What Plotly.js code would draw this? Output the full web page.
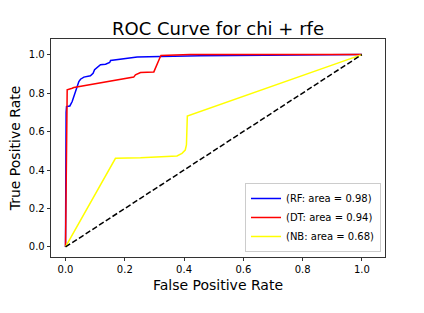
<!DOCTYPE html>
<html>
<head>
<meta charset="utf-8">
<script src="https://cdn.plot.ly/plotly-3.0.1.min.js"></script>
<style>html,body{margin:0;padding:0;background:#fff;}#chart{width:424px;height:313px;}</style>
</head>
<body>
<div id="chart"></div>
<script>
// RF curve
const rfFpr = [0, 0, 0.002, 0.0034, 0.0146, 0.0225, 0.028, 0.039, 0.045, 0.0506, 0.062, 0.084, 0.093, 0.098, 0.104, 0.112, 0.118, 0.135, 0.149, 0.152, 0.174, 0.197, 0.230, 0.242, 0.320, 0.455, 1.0];
const rfTpr = [0, 0.60, 0.70, 0.730, 0.733, 0.756, 0.782, 0.834, 0.860, 0.872, 0.883, 0.890, 0.903, 0.921, 0.930, 0.942, 0.947, 0.950, 0.959, 0.969, 0.973, 0.978, 0.982, 0.987, 0.990, 0.994, 1.0];
// DT curve
const dtFpr = [0, 0.004, 0.0056, 0.0225, 0.028, 0.230, 0.236, 0.253, 0.298, 0.318, 0.322, 0.421, 1.0];
const dtTpr = [0, 0.60, 0.817, 0.825, 0.829, 0.883, 0.895, 0.907, 0.910, 0.982, 0.995, 1.0, 1.0];
// NB curve
const nbFpr = [0, 0.1685, 0.253, 0.343, 0.376, 0.393, 0.404, 0.408, 0.410, 0.411, 1.0];
const nbTpr = [0, 0.461, 0.464, 0.469, 0.473, 0.487, 0.504, 0.530, 0.600, 0.681, 1.0];
// chance line
const diagX = [0, 1];
const diagY = [0, 1];
const seriesNames = ["(RF: area = 0.98)", "(DT: area = 0.94)", "(NB: area = 0.68)"];
const tickVals = [0, 0.2, 0.4, 0.6, 0.8, 1.0];
const tickText = ["0.0", "0.2", "0.4", "0.6", "0.8", "1.0"];

const font = "DejaVu Sans, sans-serif";
const traces = [
  {x: rfFpr, y: rfTpr, mode: "lines", name: seriesNames[0], line: {color: "blue", width: 1.5}},
  {x: dtFpr, y: dtTpr, mode: "lines", name: seriesNames[1], line: {color: "red", width: 1.5}},
  {x: nbFpr, y: nbTpr, mode: "lines", name: seriesNames[2], line: {color: "yellow", width: 1.5}},
  {x: diagX, y: diagY, mode: "lines", showlegend: false, line: {color: "black", width: 1.5, dash: "5.5px,2.5px"}}
];
const axisCommon = {
  showgrid: false, zeroline: false, showline: true, mirror: true,
  linecolor: "#000", linewidth: 0.8,
  ticks: "outside", ticklen: 3.5, tickwidth: 0.8, tickcolor: "#000",
  tickvals: tickVals, ticktext: tickText,
  tickfont: {family: font, size: 10, color: "#000"}
};
const layout = {
  width: 424, height: 313,
  margin: {l: 50.7, r: 39, t: 39.3, b: 56.3, pad: 0},
  paper_bgcolor: "#fff", plot_bgcolor: "#fff",
  font: {family: font, color: "#000"},
  title: {text: "ROC Curve for chi + rfe", font: {family: font, size: 18, color: "#000"},
          xref: "paper", x: 0.5, xanchor: "center", yref: "container", y: 0.9073, yanchor: "middle"},
  xaxis: Object.assign({}, axisCommon, {range: [-0.049, 1.078],
          title: {text: "False Positive Rate", font: {family: font, size: 14, color: "#000"}, standoff: 5}}),
  yaxis: Object.assign({}, axisCommon, {range: [-0.052, 1.081],
          title: {text: "True Positive Rate", font: {family: font, size: 14, color: "#000"}, standoff: 4}}),
  legend: {x: 0.988, y: 0.023, xanchor: "right", yanchor: "bottom",
           bgcolor: "#fff", bordercolor: "#cccccc", borderwidth: 1,
           font: {family: font, size: 10, color: "#000"}, itemwidth: 30, tracegroupgap: 0},
  showlegend: true
};
Plotly.newPlot("chart", traces, layout, {staticPlot: true, displayModeBar: false});
</script>
</body>
</html>
